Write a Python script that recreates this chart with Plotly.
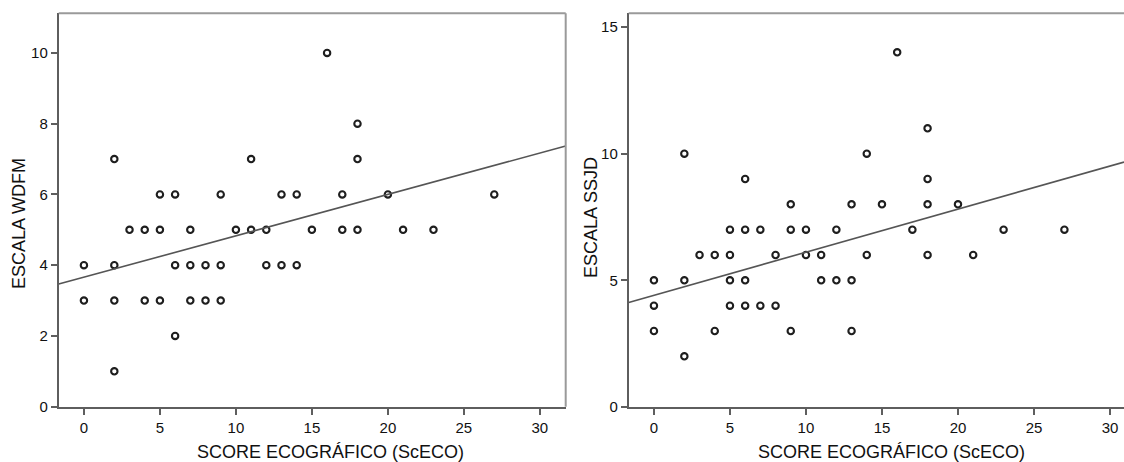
import plotly.graph_objects as go

# ---- data ----
wdfm_x = [0, 0, 2, 2, 2, 2, 3, 4, 4, 5, 5, 5, 6, 6, 6, 7, 7, 7, 8, 8, 9, 9, 9,
          10, 11, 11, 12, 12, 13, 13, 14, 14, 15, 16, 17, 17, 18, 18, 18, 20, 21, 23, 27]
wdfm_y = [3, 4, 1, 3, 4, 7, 5, 3, 5, 3, 5, 6, 2, 4, 6, 3, 4, 5, 3, 4, 3, 4, 6,
          5, 5, 7, 4, 5, 4, 6, 4, 6, 5, 10, 5, 6, 5, 7, 8, 6, 5, 5, 6]

ssjd_x = [0, 0, 0, 2, 2, 2, 3, 4, 4, 5, 5, 5, 5, 6, 6, 6, 6, 7, 7, 8, 8, 9, 9, 9,
          10, 10, 11, 11, 12, 12, 13, 13, 13, 14, 14, 15, 16, 17, 18, 18, 18, 18, 20, 21, 23, 27]
ssjd_y = [3, 4, 5, 2, 5, 10, 6, 3, 6, 4, 5, 6, 7, 4, 5, 7, 9, 4, 7, 4, 6, 3, 7, 8,
          6, 7, 5, 6, 5, 7, 3, 5, 8, 6, 10, 8, 14, 7, 6, 8, 9, 11, 8, 6, 7, 7]

# regression lines (intercept, slope)
wdfm_fit = (3.66, 0.117)
ssjd_fit = (4.41, 0.170)

x_ticks = [0, 5, 10, 15, 20, 25, 30]
wdfm_ticks = [0, 2, 4, 6, 8, 10]
ssjd_ticks = [0, 5, 10, 15]

x_title = "SCORE ECOGRÁFICO (ScECO)"
y1_title = "ESCALA WDFM"
y2_title = "ESCALA SSJD"

# ---- layout constants ----
REF_W, REF_H = 1124, 462
W, H = 1124, 470
x1_range = [-1.66, 31.7]
x2_range = [-1.66, 30.92]
y1_range = [0, 11.12]
y2_range = [0, 15.54]

font = "Liberation Sans, Arial, sans-serif"
axis_col = "#5e5e5e"
frame_col = "#9a9a9a"
mk_col = "#1e1e1e"

fig = go.Figure()

marker = dict(symbol="circle-open", size=6.4, color=mk_col, line=dict(width=2.1, color=mk_col))

fig.add_trace(go.Scatter(x=wdfm_x, y=wdfm_y, mode="markers", marker=marker,
                         xaxis="x", yaxis="y", showlegend=False))
fig.add_trace(go.Scatter(x=x1_range, y=[wdfm_fit[0] + wdfm_fit[1] * v for v in x1_range],
                         mode="lines", line=dict(color="#555555", width=1.6),
                         xaxis="x", yaxis="y", showlegend=False))
fig.add_trace(go.Scatter(x=ssjd_x, y=ssjd_y, mode="markers", marker=marker,
                         xaxis="x2", yaxis="y2", showlegend=False))
fig.add_trace(go.Scatter(x=x2_range, y=[ssjd_fit[0] + ssjd_fit[1] * v for v in x2_range],
                         mode="lines", line=dict(color="#555555", width=1.6),
                         xaxis="x2", yaxis="y2", showlegend=False))

def px(v):
    return v / REF_W

def py(v):
    return 1 - v / REF_H

common_x = dict(showgrid=False, zeroline=False, showline=True, linecolor=axis_col, linewidth=1.8,
                ticks="outside", ticklen=6, tickwidth=1.5, tickcolor=axis_col,
                tickfont=dict(family=font, size=15, color="#111"), tickvals=x_ticks)
common_y = dict(showgrid=False, zeroline=False, showline=True, linecolor=axis_col, linewidth=1.8,
                ticks="outside", ticklen=6, tickwidth=1.5, tickcolor=axis_col,
                tickfont=dict(family=font, size=15, color="#111"))

fig.update_layout(
    width=W, height=H, autosize=False,
    margin=dict(l=0, r=0, t=0, b=0),
    paper_bgcolor="white", plot_bgcolor="white",
    xaxis=dict(domain=[px(58.7), px(565.7)], range=x1_range, anchor="y", **common_x),
    yaxis=dict(domain=[py(406.7), py(13.3)], range=y1_range, anchor="x", tickvals=wdfm_ticks, **common_y),
    xaxis2=dict(domain=[px(628.7), 1.0], range=x2_range, anchor="y2", **common_x),
    yaxis2=dict(domain=[py(407), py(13.3)], range=y2_range, anchor="x2", tickvals=ssjd_ticks, **common_y),
    shapes=[
        dict(type="line", xref="x domain", yref="y domain", x0=0, x1=1, y0=1, y1=1,
             line=dict(color=frame_col, width=2)),
        dict(type="line", xref="x domain", yref="y domain", x0=1, x1=1, y0=0, y1=1,
             line=dict(color=frame_col, width=2)),
        dict(type="line", xref="x2 domain", yref="y2 domain", x0=0, x1=1, y0=1, y1=1,
             line=dict(color=frame_col, width=2)),
    ],
    annotations=[
        dict(text=x_title, x=px(330), y=py(452), xref="paper", yref="paper",
             showarrow=False, xanchor="center", yanchor="middle",
             font=dict(family=font, size=18, color="#111")),
        dict(text=x_title, x=px(891.5), y=py(452), xref="paper", yref="paper",
             showarrow=False, xanchor="center", yanchor="middle",
             font=dict(family=font, size=18, color="#111")),
        dict(text=y1_title, x=px(18.5), y=py(223.5), xref="paper", yref="paper",
             showarrow=False, textangle=-90, xanchor="center", yanchor="middle",
             font=dict(family=font, size=18, color="#111")),
        dict(text=y2_title, x=px(591.5), y=py(217.5), xref="paper", yref="paper",
             showarrow=False, textangle=-90, xanchor="center", yanchor="middle",
             font=dict(family=font, size=18, color="#111")),
    ],
)

# remove the page's default body margin so the figure sits at the window's top-left corner
fig.write_html("out.html", config={"displayModeBar": False},
               post_script="document.body.style.margin='0';")
